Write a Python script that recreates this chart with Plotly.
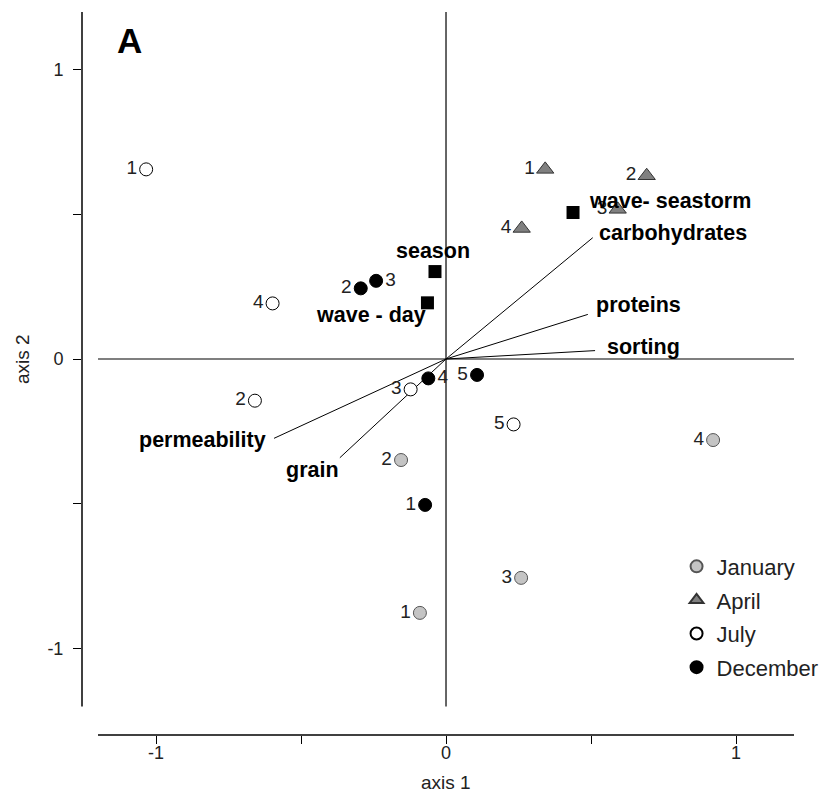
import plotly.graph_objects as go

# ---------------- data ----------------
jan_lab = ["1", "2", "3", "4"]
jan_x = [-0.090, -0.155, 0.259, 0.921]
jan_y = [-0.877, -0.349, -0.756, -0.280]

apr_lab = ["1", "2", "3", "4"]
apr_x = [0.342, 0.692, 0.592, 0.261]
apr_y = [0.655, 0.633, 0.517, 0.451]

jul_lab = ["1", "2", "3", "4", "5"]
jul_x = [-1.034, -0.659, -0.122, -0.598, 0.233]
jul_y = [0.655, -0.144, -0.105, 0.192, -0.226]

dec_lab = ["1", "2", "3", "4", "5"]
dec_x = [-0.072, -0.294, -0.241, -0.061, 0.107]
dec_y = [-0.504, 0.244, 0.270, -0.067, -0.055]

cen_names = ["wave- seastorm", "season", "wave - day"]
cen_x = [0.438, -0.038, -0.064]
cen_y = [0.506, 0.302, 0.194]

vec_names = ["carbohydrates", "proteins", "sorting", "permeability", "grain"]
vec_x = [0.506, 0.489, 0.514, -0.593, -0.366]
vec_y = [0.419, 0.154, 0.029, -0.274, -0.341]

tick_vals = [-1, -0.5, 0, 0.5, 1]
tick_text = ["-1", "", "0", "", "1"]

# ---------------- styles ----------------
FONT = "Arial, Liberation Sans, sans-serif"
x_range = [-1.2552, 1.3172]
y_range = [-1.2988, 1.1986]

fig = go.Figure()

# vectors from origin
lx, ly = [], []
for vx, vy in zip(vec_x, vec_y):
    lx += [0, vx, None]
    ly += [0, vy, None]
fig.add_trace(go.Scatter(x=lx, y=ly, mode="lines", line=dict(color="black", width=1),
                         showlegend=False, hoverinfo="skip"))

# centroids (squares)
fig.add_trace(go.Scatter(x=cen_x, y=cen_y, mode="markers",
                         marker=dict(symbol="square", size=13, color="black"),
                         showlegend=False, hoverinfo="skip"))

def pos_list(labels, right=()):
    return ["middle right" if i in right else "middle left" for i in range(len(labels))]

textfont = dict(family=FONT, size=19, color="#222222")

fig.add_trace(go.Scatter(x=jan_x, y=jan_y, mode="markers+text", text=jan_lab,
                         textposition=pos_list(jan_lab), textfont=textfont,
                         name="January", legendgroup="a",
                         marker=dict(symbol="circle", size=13, color="#c4c4c4",
                                     line=dict(color="#555555", width=1))))
fig.add_trace(go.Scatter(x=apr_x, y=apr_y, mode="markers+text", text=apr_lab,
                         textposition=pos_list(apr_lab), textfont=textfont,
                         name="April", legendgroup="b",
                         marker=dict(symbol="triangle-up", size=15, color="#808080",
                                     line=dict(color="#333333", width=1))))
fig.add_trace(go.Scatter(x=jul_x, y=jul_y, mode="markers+text", text=jul_lab,
                         textposition=pos_list(jul_lab), textfont=textfont,
                         name="July", legendgroup="c",
                         marker=dict(symbol="circle", size=13, color="white",
                                     line=dict(color="black", width=1))))
fig.add_trace(go.Scatter(x=dec_x, y=dec_y, mode="markers+text", text=dec_lab,
                         textposition=pos_list(dec_lab, right=(2, 3)), textfont=textfont,
                         name="December", legendgroup="d",
                         marker=dict(symbol="circle", size=13, color="black",
                                     line=dict(color="black", width=1))))

# axis-like lines (detached axes)
shapes = [
    dict(type="line", xref="x", yref="paper", x0=-1.2, x1=1.2, y0=0, y1=0,
         line=dict(color="black", width=1.5)),
    dict(type="line", xref="paper", yref="y", x0=0, x1=0, y0=-1.2, y1=1.2,
         line=dict(color="black", width=1.5)),
    dict(type="line", xref="x", yref="y", x0=0, x1=0, y0=-1.2, y1=1.2,
         line=dict(color="black", width=1.2), layer="below"),
    dict(type="line", xref="x", yref="y", x0=-1.2, x1=1.2, y0=0, y1=0,
         line=dict(color="black", width=1.2), layer="below"),
]

bold = dict(family=FONT, size=21.5, color="black")
label_style = {
    "carbohydrates": dict(xanchor="left", xshift=4, yshift=5),
    "proteins": dict(xanchor="left", xshift=6, yshift=9),
    "sorting": dict(xanchor="left", xshift=10, yshift=4),
    "permeability": dict(xanchor="right", xshift=-6, yshift=-2),
    "grain": dict(xanchor="right", xshift=1, yshift=-12),
    "wave- seastorm": dict(xanchor="left", xshift=14, yshift=12),
    "season": dict(xanchor="center", xshift=-2, yshift=21),
    "wave - day": dict(xanchor="right", xshift=1, yshift=-12),
}
annotations = []
for n, x, y in list(zip(vec_names, vec_x, vec_y)) + list(zip(cen_names, cen_x, cen_y)):
    st = label_style[n]
    annotations.append(dict(x=x, y=y, xref="x", yref="y", text="<b>%s</b>" % n,
                            showarrow=False, font=bold, yanchor="middle", **st))

annotations += [
    dict(x=0.0445, y=0.96, xref="paper", yref="paper", text="<b>A</b>", showarrow=False,
         xanchor="left", yanchor="middle", font=dict(family=FONT, size=35, color="black")),
    dict(x=0, y=-0.066, xref="x", yref="paper", text="axis 1", showarrow=False,
         xanchor="center", yanchor="middle", font=dict(family=FONT, size=19, color="#222222")),
    dict(x=-0.0804, y=0, xref="paper", yref="y", text="axis 2", showarrow=False, textangle=-90,
         xanchor="center", yanchor="middle", font=dict(family=FONT, size=19, color="#222222")),
]

# page body adds an 8px offset, so the figure is 8px smaller and margins shifted
fig.update_layout(
    width=820, height=788,
    margin=dict(l=74, r=0, t=4, b=61, autoexpand=False),
    paper_bgcolor="white", plot_bgcolor="white",
    shapes=shapes, annotations=annotations,
    showlegend=True,
    legend=dict(x=0.797, y=0.262, xanchor="left", yanchor="top",
                font=dict(family=FONT, size=22, color="#222222"),
                bgcolor="rgba(0,0,0,0)", tracegroupgap=2, itemsizing="constant"),
    xaxis=dict(range=x_range, showgrid=False, zeroline=False, showline=False,
               tickmode="array", tickvals=tick_vals, ticktext=tick_text,
               ticks="outside", ticklen=8, tickcolor="black", tickwidth=1,
               ticklabelstandoff=-7, automargin=False,
               tickfont=dict(family=FONT, size=18, color="#222222")),
    yaxis=dict(range=y_range, showgrid=False, zeroline=False, showline=False,
               tickmode="array", tickvals=tick_vals, ticktext=tick_text,
               ticks="outside", ticklen=8, tickcolor="black", tickwidth=1,
               ticklabelstandoff=6, automargin=False,
               tickfont=dict(family=FONT, size=18, color="#222222")),
)

fig.write_html("out.html")
